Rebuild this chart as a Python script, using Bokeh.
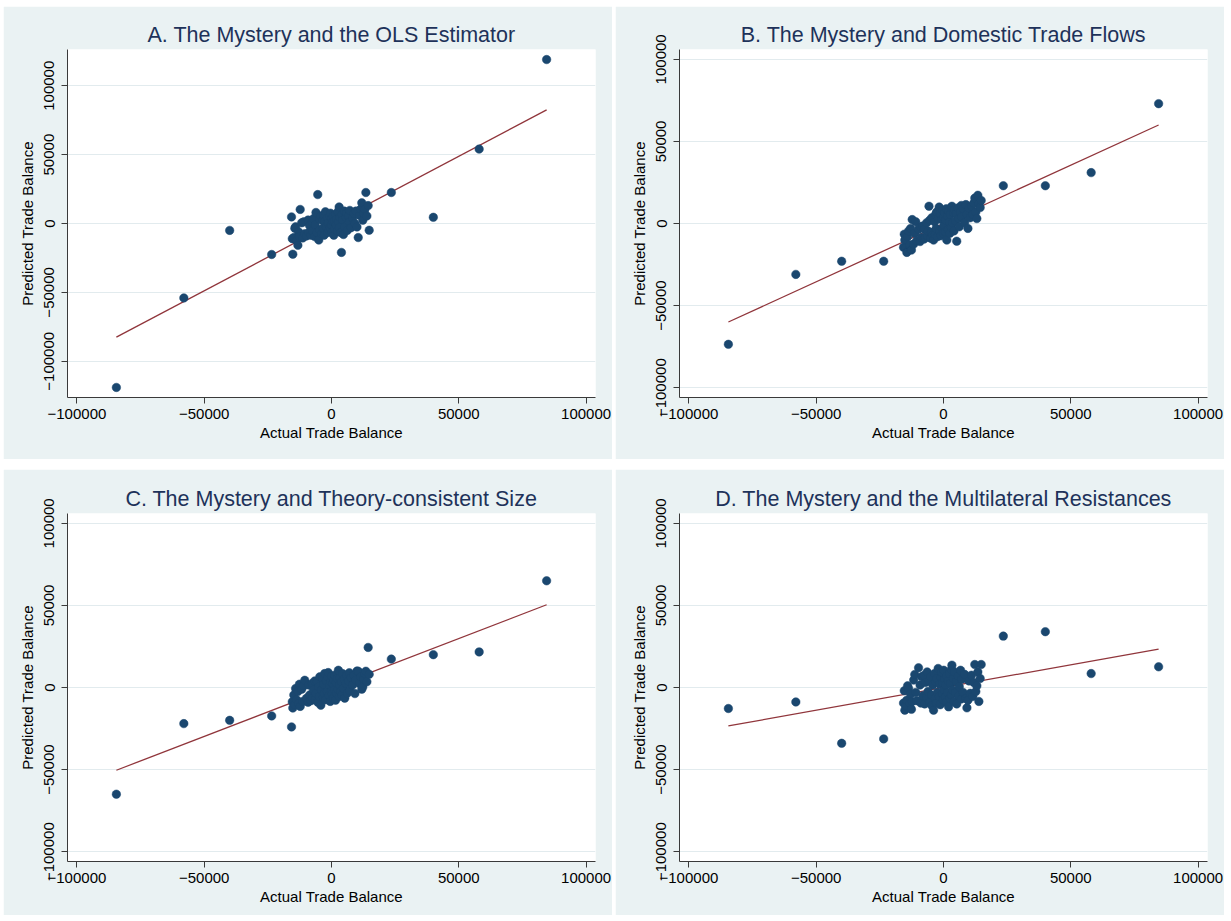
from bokeh.plotting import figure
from bokeh.models import FixedTicker, BasicTickFormatter, Range1d
from bokeh.layouts import row, column
from bokeh.embed import file_html
from bokeh.resources import INLINE

titles = [
    "A. The Mystery and the OLS Estimator",
    "B. The Mystery and Domestic Trade Flows",
    "C. The Mystery and Theory-consistent Size",
    "D. The Mystery and the Multilateral Resistances",
]
x_label = "Actual Trade Balance"
y_label = "Predicted Trade Balance"
tick_values = [-100000, -50000, 0, 50000, 100000]

# Actual trade balance (same for all panels): outliers first, then the cluster
x_actual = [
    -84500, -58000, -40000, -23500, 23500, 40000, 58000, 84500,
    -15700, -15400, -15200, -14800, -14400, -14100, -13700, -13200, -12900, -12600,
    -12300, -11700, -11300, -10900, -10500, -9800, -9200, -8900, -8600, -8100,
    -7600, -7400, -7100, -6600, -6400, -6100, -5700, -5400, -5000, -4800,
    -4600, -4200, -3900, -3500, -3300, -3100, -2900, -2700, -2400, -2100,
    -1700, -1500, -1300, -1000, -700, -500, -400, -100, 100, 200,
    500, 700, 900, 1100, 1300, 1600, 1800, 2000, 2300, 2500,
    2700, 3000, 3100, 3300, 3600, 3900, 4100, 4300, 4700, 5000,
    5200, 5700, 6000, 6200, 6700, 7000, 7200, 7700, 8300, 8800,
    9200, 9600, 10000, 10500, 11000, 11500, 11900, 12300, 12700, 13100,
    13500, 13900, 14400, 14800,
]

pred_A = [
    -119000, -54000, -5000, -22500, 22500, 4500, 54000, 119000,
    4800, -11000, -22300, -10200, -3500, -2400, -12500, -15800, -6100, -9500,
    10200, 500, -10500, 1200, -7500, -9000, 2500, -6500, -1500, -8500,
    1000, -5500, 3500, -9500, -1000, 8000, -6500, 21000, -12000, 3500,
    -4500, 5500, -7500, 2000, -3500, 6000, -8500, 1500, 8500, -2500,
    4000, -6500, 500, -4900, 5500, -3000, 7500, -1000, 3500, -6500,
    1500, 5000, -8500, 2000, -4000, 6500, -1000, 3000, -5500, 8500,
    1000, 12000, -3000, 4500, -6500, -21000, 6500, 2500, -8000, 9000,
    -2500, 4500, 7500, -5000, 5500, 1000, 9500, -3000, 4000, 7300,
    0, 9000, -2500, -10200, 6000, 10500, 15000, 2400, 7500, 10200,
    22500, 5500, 13000, -4900,
]

pred_B = [
    -73600, -31000, -23000, -23000, 23000, 23000, 31000, 73000,
    -14500, -6500, -10100, -15000, -17600, -8000, -4500, -13000, -3000, -16200,
    2400, -12500, -6000, 1000, -10500, -3500, -11000, -2000, -8500, -1500,
    -9500, -3500, -8500, 500, -7500, -4500, 10500, 2000, -9000, -5500,
    3500, -7000, -10100, 1000, -6500, 5500, -3000, 7000, -8000, 3000,
    10000, -4500, 6000, -7500, 2500, -3500, 8000, -6000, 4000, -1000,
    6500, -5000, 2000, 9000, -10100, 4500, -3500, 7500, 1000, -6000,
    5500, -2500, 9500, 10500, 500, 6500, -4500, 8500, 1500, 6000,
    -10800, 9500, 3000, -2000, 7000, 11000, 4000, 9000, 500, 11500,
    5500, -3000, 9500, 3500, 10500, 5500, 12500, 15500, 7000, 3000,
    17200, 12000, 9700, 14000,
]

pred_C = [
    -65000, -22000, -20000, -17300, 17300, 20000, 21700, 65000,
    -24000, -8700, -12500, -4500, -10500, -600, -7500, -2500, -9700, 2000,
    -11500, -1000, -8500, 1000, 4400, -6500, -9000, 1500, -4500, -8000,
    2500, -6500, -1500, 4000, -7500, -3500, 3500, -9000, 500, -5500,
    6500, -10800, -1500, 5500, -6000, 2000, -3500, 8500, -7500, 4000,
    -2500, 6500, 9100, -5000, 1500, -8500, 3500, -2500, 7000, -4000,
    2500, -6500, 4500, -1500, 7500, -7700, 3000, -3500, 5500, -1000,
    10500, -5500, 1500, 6000, -2600, 3500, -4500, 8500, -500, 5000,
    -6500, 2500, 7500, -3500, 4000, 9000, -2000, 6000, 1500, 7500,
    -3700, 4500, 10000, 9900, 2500, 6500, -1000, 400, 5000, 8500,
    9900, 3500, 24400, 8000,
]

pred_D = [
    -12800, -8800, -34000, -31300, 31300, 34000, 8500, 12600,
    -9500, -2000, -13800, -11000, -7700, 1000, -600, -9800, -4000, -13300,
    -8500, 4500, 7900, -3000, -8000, 12000, 1500, -9500, 6500, -5000,
    7500, -10000, 3000, -6000, 9500, -2500, 4000, -9000, 6500, -4500,
    -11000, 1500, -13800, 8500, -6500, 3500, -9500, 5500, -3000, 11600,
    -5500, 2000, -10500, 6000, 9500, -4000, 3000, -7500, 10500, -1500,
    5000, -6000, 1500, -9000, 7000, -3000, 4000, -11800, 8500, -6500,
    2500, -4500, 11000, 13600, -1500, 5500, -8500, 9500, -3000, 3500,
    -10000, 7000, -5000, 500, 10500, -7000, 5000, -3000, 8000, -6500,
    -12400, -7700, 4000, -3500, 7500, -5500, 3000, 14000, -2500, 1000,
    9500, -8500, 5500, 14000,
]

fit_x = [-84500, 84500]
fit_A = [-82500, 82500]
fit_B = [-60000, 60000]
fit_C = [-50400, 50400]
fit_D = [-23400, 23400]

x_limit = 103700
y_limits = [126300, 106000, 106000, 106000]

BG = "#EAF2F3"
NAVY = "#1A476F"
MAROON = "#90353B"
FONT = "Liberation Sans"


def make_panel(title, ys, fit_y, ylim, width, height, bl, br, bt, bb):
    p = figure(
        width=width, height=height,
        x_range=Range1d(-x_limit, x_limit), y_range=Range1d(-ylim, ylim),
        output_backend="svg", toolbar_location=None,
        min_border_left=bl, min_border_right=br,
        min_border_top=bt, min_border_bottom=bb,
        background_fill_color="white", border_fill_color=BG,
        outline_line_color=None,
    )
    p.title.text = title
    p.title.align = "center"
    p.title.text_font = FONT
    p.title.text_font_size = "21.5px"
    p.title.text_font_style = "normal"
    p.title.text_color = "#1E325A"
    p.title.standoff = 6

    p.xgrid.visible = False
    p.ygrid.grid_line_color = "#E2EBEE"
    p.ygrid.grid_line_width = 1

    for ax in (p.xaxis[0], p.yaxis[0]):
        ax.ticker = FixedTicker(ticks=tick_values)
        ax.formatter = BasicTickFormatter(use_scientific=False)
        ax.axis_line_color = "#3A3A3A"
        ax.axis_line_width = 1
        ax.major_tick_line_color = "#3A3A3A"
        ax.major_tick_out = 6
        ax.major_tick_in = 0
        ax.minor_tick_line_color = None
        ax.major_label_text_font = FONT
        ax.major_label_text_font_size = "15px"
        ax.major_label_text_color = "black"
        ax.axis_label_text_font = FONT
        ax.axis_label_text_font_size = "15px"
        ax.axis_label_text_font_style = "normal"
        ax.axis_label_text_color = "black"

    p.xaxis.axis_label = x_label
    p.xaxis.major_label_standoff = 5
    p.xaxis.axis_label_standoff = 2
    p.yaxis.axis_label = y_label
    p.yaxis.major_label_orientation = "vertical"
    p.yaxis.major_label_standoff = 7
    p.yaxis.axis_label_standoff = 6

    p.line(fit_x, fit_y, line_color=MAROON, line_width=1.3)
    p.scatter(x_actual, ys, size=8.5, fill_color=NAVY, line_color=NAVY, line_width=0.5)
    return p


pA = make_panel(titles[0], pred_A, fit_A, y_limits[0], 609, 453, 64, 17, 43, 62)
pB = make_panel(titles[1], pred_B, fit_B, y_limits[1], 609, 453, 64, 17, 43, 62)
pC = make_panel(titles[2], pred_C, fit_C, y_limits[2], 609, 446, 64, 17, 44, 54)
pD = make_panel(titles[3], pred_D, fit_D, y_limits[3], 609, 446, 64, 17, 44, 54)

layout = column(row(pA, pB, spacing=3), row(pC, pD, spacing=3), spacing=10,
                margin=(6, 0, 0, 3))

open("out.html", "w").write(file_html(layout, INLINE))
